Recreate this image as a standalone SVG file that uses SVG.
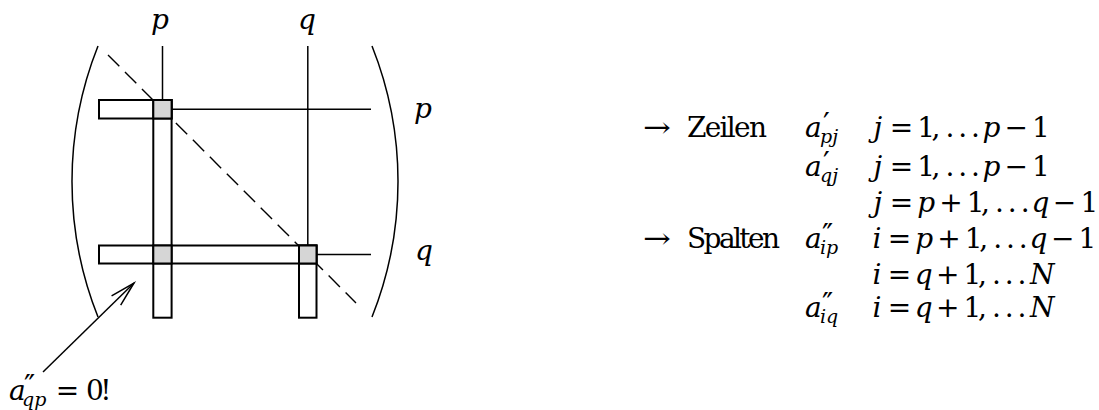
<svg xmlns="http://www.w3.org/2000/svg" width="1099" height="410" viewBox="0 0 1099 410">
<style>
.ln{stroke:#000;stroke-width:1.5;fill:none}
.bx{stroke:#000;stroke-width:2;fill:none}
.gr{stroke:#000;stroke-width:2;fill:#d6d6d6}
.dash{stroke:#000;stroke-width:1.4;fill:none;stroke-dasharray:16 8}
text{font-family:"DejaVu Serif","Noto Serif",serif;font-size:28px;fill:#000}
.it{font-style:italic}
.sub{font-size:19px;font-style:italic}
.pr{font-size:30px}
.c{text-anchor:middle}
</style>
<defs>
<marker id="ah" markerUnits="userSpaceOnUse" markerWidth="40" markerHeight="30" viewBox="-30 -15 40 30" refX="0" refY="0" orient="auto" overflow="visible">
<path d="M-25,-6.5 L0,0 L-25,6.5" fill="none" stroke="#000" stroke-width="1.5"/>
</marker>
</defs>
<rect width="1099" height="410" fill="#fff"/>
<g id="matrix">
<path class="ln" d="M98,46 A366,366 0 0 0 98,317"/>
<path class="ln" d="M372,46 A366,366 0 0 1 372,317"/>
<path class="dash" d="M108,55 L356,303"/>
<line class="ln" x1="162.5" y1="46" x2="162.5" y2="100"/>
<line class="ln" x1="307.8" y1="46" x2="307.8" y2="245.5"/>
<line class="ln" x1="171.6" y1="109.3" x2="371" y2="109.3"/>
<line class="ln" x1="316.5" y1="254.5" x2="371" y2="254.5"/>
</g>
<g id="row-p">
<rect class="bx" x="99" y="100" width="72.6" height="18.5"/>
</g>
<g id="col-p">
<rect class="bx" x="153.3" y="100" width="18.3" height="217.7"/>
</g>
<g id="row-q">
<rect class="bx" x="99" y="245.5" width="217.5" height="18"/>
</g>
<g id="col-q">
<rect class="bx" x="299" y="245.5" width="17.5" height="72.2"/>
</g>
<g id="pivots">
<rect class="gr" x="153.3" y="100" width="18.3" height="18.5"/>
<rect class="gr" x="153.3" y="245.5" width="18.3" height="18"/>
<rect class="gr" x="299" y="245.5" width="17.5" height="18"/>
</g>
<g id="labels-matrix">
<text class="it c" x="160" y="29">p</text>
<text class="it c" x="307" y="29">q</text>
<text class="it c" x="423" y="118">p</text>
<text class="it c" x="424" y="260">q</text>
</g>
<g id="connectors">
<line class="ln" x1="43" y1="372" x2="134" y2="283" marker-end="url(#ah)"/>
</g>
<g id="label-zero">
<text class="it" x="9" y="400">a</text>
<text class="pr" x="24" y="396">″</text>
<text class="sub" x="22" y="406">qp</text>
<text class="c" x="67.5" y="400">=</text>
<text class="c" x="95" y="400">0</text>
<text class="c" x="106" y="400">!</text>
</g>
<g id="rules">
<text x="643" y="137" textLength="28" lengthAdjust="spacingAndGlyphs">→</text>
<text x="687" y="137" textLength="80">Zeilen</text>
<text x="643" y="248" textLength="28" lengthAdjust="spacingAndGlyphs">→</text>
<text x="687" y="248" textLength="93">Spalten</text>

<text class="it" x="805" y="137">a</text>
<text class="pr" x="823" y="134">′</text>
<text class="sub" x="820" y="143">pj</text>
<text class="it" x="805" y="176">a</text>
<text class="pr" x="823" y="173">′</text>
<text class="sub" x="820" y="182">qj</text>
<text class="it" x="805" y="248">a</text>
<text class="pr" x="822" y="245">″</text>
<text class="sub" x="820" y="254">ip</text>
<text class="it" x="805" y="317">a</text>
<text class="pr" x="822" y="314">″</text>
<text class="sub" x="820" y="323">iq</text>

<text class="c" y="137"><tspan class="it" x="877.9">j</tspan><tspan x="901.4">=</tspan><tspan x="926.1">1</tspan><tspan x="936">,</tspan><tspan x="950">.</tspan><tspan x="962.8">.</tspan><tspan x="975.5">.</tspan><tspan class="it" x="991.5">p</tspan><tspan x="1016.3">−</tspan><tspan x="1041">1</tspan></text>
<text class="c" y="176"><tspan class="it" x="877.9">j</tspan><tspan x="901.4">=</tspan><tspan x="926.1">1</tspan><tspan x="936">,</tspan><tspan x="950">.</tspan><tspan x="962.8">.</tspan><tspan x="975.5">.</tspan><tspan class="it" x="991.5">p</tspan><tspan x="1016.3">−</tspan><tspan x="1041">1</tspan></text>
<text class="c" y="212"><tspan class="it" x="877.9">j</tspan><tspan x="901.4">=</tspan><tspan class="it" x="926.1">p</tspan><tspan x="950.9">+</tspan><tspan x="975.6">1</tspan><tspan x="985.5">,</tspan><tspan x="999.5">.</tspan><tspan x="1012.3">.</tspan><tspan x="1025.1">.</tspan><tspan class="it" x="1040.4">q</tspan><tspan x="1064.6">−</tspan><tspan x="1089.3">1</tspan></text>
<text class="c" y="248"><tspan class="it" x="876.9">i</tspan><tspan x="899.4">=</tspan><tspan class="it" x="924.2">p</tspan><tspan x="948.9">+</tspan><tspan x="973.7">1</tspan><tspan x="983.6">,</tspan><tspan x="997.6">.</tspan><tspan x="1010.4">.</tspan><tspan x="1023.1">.</tspan><tspan class="it" x="1038.5">q</tspan><tspan x="1062.7">−</tspan><tspan x="1087.4">1</tspan></text>
<text class="c" y="284"><tspan class="it" x="876.9">i</tspan><tspan x="899.4">=</tspan><tspan class="it" x="923.6">q</tspan><tspan x="947.7">+</tspan><tspan x="972.4">1</tspan><tspan x="982.4">,</tspan><tspan x="996.4">.</tspan><tspan x="1009.1">.</tspan><tspan x="1021.9">.</tspan><tspan class="it" x="1042.2">N</tspan></text>
<text class="c" y="317"><tspan class="it" x="876.9">i</tspan><tspan x="899.4">=</tspan><tspan class="it" x="923.6">q</tspan><tspan x="947.7">+</tspan><tspan x="972.4">1</tspan><tspan x="982.4">,</tspan><tspan x="996.4">.</tspan><tspan x="1009.1">.</tspan><tspan x="1021.9">.</tspan><tspan class="it" x="1042.2">N</tspan></text>
</g>
</svg>
